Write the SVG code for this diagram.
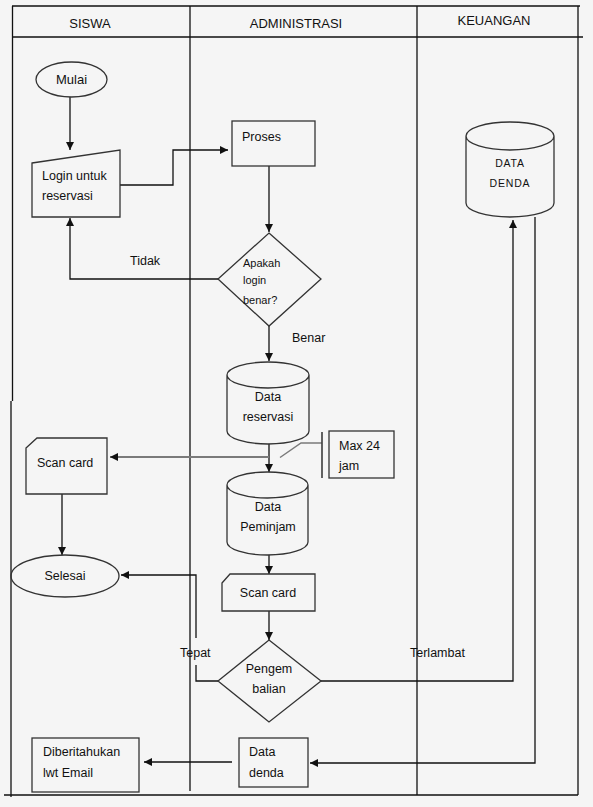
<svg xmlns="http://www.w3.org/2000/svg" width="593" height="807" viewBox="0 0 593 807">
<style>
.t{font-family:"Liberation Sans",Arial,sans-serif;font-size:12.5px;fill:#111}
.h{font-family:"Liberation Sans",Arial,sans-serif;font-size:13px;fill:#111}
.s{fill:none;stroke:#333;stroke-width:1.3}
.c{fill:none;stroke:#111;stroke-width:1.3}
.f{fill:none;stroke:#111;stroke-width:1.3}
</style>
<defs>
<marker id="ah" viewBox="0 0 10 10" refX="10" refY="5" markerWidth="9" markerHeight="8" markerUnits="userSpaceOnUse" orient="auto">
<path d="M0,0 L10,5 L0,10 z" fill="#111"/>
</marker>
</defs>
<rect x="0" y="0" width="593" height="807" fill="#f5f5f5"/>
<g id="frame">
<path class="f" d="M12,6 H580 M12.5,6 V401 M11,401 V797 M4,795 H578 M578,6 V795 M12,37 H583 M190,6 V791 M417,6 V795"/>
<text class="h" x="90" y="28" text-anchor="middle">SISWA</text>
<text class="h" x="296" y="28" text-anchor="middle">ADMINISTRASI</text>
<text class="h" x="494" y="25" text-anchor="middle">KEUANGAN</text>
</g>
<g id="connectors">
<path class="c" d="M70,97 V150" marker-end="url(#ah)"/>
<path class="c" d="M120,185 H173 V150 H228" marker-end="url(#ah)"/>
<path class="c" d="M269,166 V232" marker-end="url(#ah)"/>
<path class="c" d="M218,279 H70 V218" marker-end="url(#ah)"/>
<path class="c" d="M269,326 V361" marker-end="url(#ah)"/>
<path class="c" d="M269,444 V472" marker-end="url(#ah)"/>
<path fill="none" stroke="#7a7a7a" stroke-width="2" d="M269,457 H110" marker-end="url(#ah)"/>
<path class="c" d="M62,494 V555" marker-end="url(#ah)"/>
<path class="c" d="M269,555 V574" marker-end="url(#ah)"/>
<path class="c" d="M269,611 V640" marker-end="url(#ah)"/>
<path class="c" d="M218,681 H196 V665"/>
<path class="c" d="M196,638 V575 H121" marker-end="url(#ah)"/>
<path class="c" d="M321,681 H513 V220" marker-end="url(#ah)"/>
<path class="c" d="M535,217 V763 H310" marker-end="url(#ah)"/>
<path class="c" d="M232,762 H144" marker-end="url(#ah)"/>
<text class="t" x="130" y="265">Tidak</text>
<text class="t" x="292" y="342">Benar</text>
<text class="t" x="180" y="657">Tepat</text>
<text class="t" x="410" y="657">Terlambat</text>
</g>
<g id="mulai">
<ellipse class="s" cx="71.5" cy="79.5" rx="35.5" ry="17.5"/>
<text class="h" x="71.5" y="84" text-anchor="middle">Mulai</text>
</g>
<g id="login">
<path class="s" d="M32,163 L120,150 V217 H32 Z"/>
<text class="t" x="42" y="180">Login untuk</text>
<text class="t" x="42" y="200">reservasi</text>
</g>
<g id="proses">
<rect class="s" x="232" y="121" width="83" height="45"/>
<text class="t" x="242" y="141">Proses</text>
</g>
<g id="apakah">
<path class="s" d="M269,233 L321,279 L269,326 L218,279 Z"/>
<text class="t" style="font-size:11px" x="243" y="267">Apakah</text>
<text class="t" style="font-size:11px" x="243" y="284">login</text>
<text class="t" style="font-size:11px" x="243" y="304">benar?</text>
</g>
<g id="data-reservasi">
<path class="s" d="M227,375 A41,13 0 0,1 309,375 A41,13 0 0,1 227,375 Z M227,375 V431 A41,13 0 0,0 309,431 V375"/>
<text class="t" x="268" y="401" text-anchor="middle">Data</text>
<text class="t" x="268" y="421" text-anchor="middle">reservasi</text>
</g>
<g id="max24">
<path fill="none" stroke="#7a7a7a" stroke-width="1.5" d="M280,457.5 L301,443 H321.5"/>
<path class="c" d="M322,432 V478"/>
<rect class="s" x="329" y="431" width="65" height="47"/>
<text class="t" x="339" y="450">Max 24</text>
<text class="t" x="339" y="470">jam</text>
</g>
<g id="scan-card-siswa">
<path class="s" d="M26,448 L37,438 H107 V494 H26 Z"/>
<text class="t" x="37" y="467">Scan card</text>
</g>
<g id="selesai">
<ellipse class="s" cx="65" cy="576" rx="54" ry="21"/>
<text class="t" x="65" y="580" text-anchor="middle">Selesai</text>
</g>
<g id="data-peminjam">
<path class="s" d="M227,485 A40.5,13 0 0,1 308,485 A40.5,13 0 0,1 227,485 Z M227,485 V542 A40.5,13 0 0,0 308,542 V485"/>
<text class="t" x="268" y="511" text-anchor="middle">Data</text>
<text class="t" x="268" y="531" text-anchor="middle">Peminjam</text>
</g>
<g id="scan-card-admin">
<path class="s" d="M222,583 L230,574 H315 V611 H222 Z"/>
<text class="t" x="268" y="597" text-anchor="middle">Scan card</text>
</g>
<g id="pengembalian">
<path class="s" d="M269,640 L321,681 L269,722 L218,681 Z"/>
<text class="t" x="269" y="673" text-anchor="middle">Pengem</text>
<text class="t" x="269" y="693" text-anchor="middle">balian</text>
</g>
<g id="data-denda-db">
<path class="s" d="M466,136 A44,14 0 0,1 554,136 A44,14 0 0,1 466,136 Z M466,136 V203 A44,14 0 0,0 554,203 V136"/>
<text class="t" style="font-size:10.5px;letter-spacing:0.8px" x="510" y="167" text-anchor="middle">DATA</text>
<text class="t" style="font-size:10.5px;letter-spacing:0.8px" x="510" y="187" text-anchor="middle">DENDA</text>
</g>
<g id="data-denda">
<rect class="s" x="239" y="738" width="69" height="49"/>
<text class="t" x="249" y="756">Data</text>
<text class="t" x="249" y="777">denda</text>
</g>
<g id="diberitahukan">
<rect class="s" x="32" y="738" width="107" height="54"/>
<text class="t" x="43" y="756">Diberitahukan</text>
<text class="t" x="43" y="777">lwt Email</text>
</g>
</svg>
